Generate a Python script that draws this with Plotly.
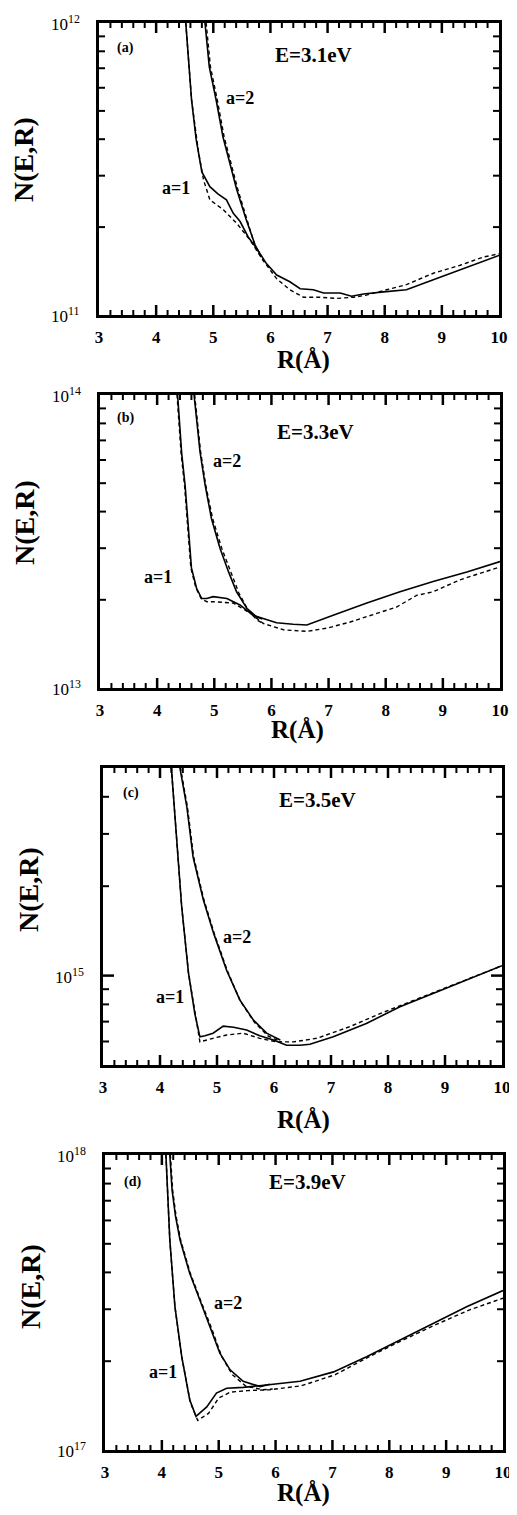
import math
import plotly.graph_objects as go

# ---------------- data ----------------
# Panel (a)  E = 3.1 eV
a_a1_sol_R = [4.50, 4.52, 4.62, 4.70, 4.80, 4.94, 5.08, 5.23, 5.35, 5.47, 5.61, 5.76, 5.93, 6.11, 6.34, 6.52, 6.75, 6.93, 7.22, 7.42, 7.63, 7.98, 8.38, 8.85, 9.43, 10.0]
a_a1_sol_N = [1.12e12, 1.0e12, 5.45e11, 4.0e11, 3.09e11, 2.75e11, 2.60e11, 2.48e11, 2.23e11, 2.09e11, 1.85e11, 1.69e11, 1.50e11, 1.37e11, 1.30e11, 1.23e11, 1.22e11, 1.19e11, 1.19e11, 1.16e11, 1.18e11, 1.20e11, 1.22e11, 1.32e11, 1.45e11, 1.60e11]
a_a1_das_R = [4.50, 4.52, 4.62, 4.74, 4.83, 4.94, 5.18, 5.41, 5.64, 5.87, 6.11, 6.34, 6.58, 6.87, 7.16, 7.45, 7.68, 8.03, 8.38, 8.85, 9.32, 9.73, 10.0]
a_a1_das_N = [1.12e12, 1.0e12, 5.45e11, 3.63e11, 2.90e11, 2.48e11, 2.29e11, 2.06e11, 1.81e11, 1.54e11, 1.33e11, 1.22e11, 1.15e11, 1.15e11, 1.14e11, 1.15e11, 1.17e11, 1.22e11, 1.27e11, 1.39e11, 1.48e11, 1.58e11, 1.62e11]
a_a2_sol_R = [4.84, 4.855, 4.93, 5.05, 5.17, 5.29, 5.41, 5.57, 5.73, 5.80]
a_a2_sol_N = [1.12e12, 1.0e12, 7.08e11, 5.45e11, 4.07e11, 3.27e11, 2.69e11, 2.14e11, 1.74e11, 1.64e11]
a_a2_das_R = [4.86, 4.875, 4.95, 5.07, 5.19, 5.31, 5.43, 5.59, 5.74, 5.87]
a_a2_das_N = [1.12e12, 1.0e12, 7.08e11, 5.45e11, 4.07e11, 3.27e11, 2.69e11, 2.12e11, 1.70e11, 1.54e11]

# Panel (b)  E = 3.3 eV
b_a1_sol_R = [4.34, 4.36, 4.43, 4.49, 4.55, 4.60, 4.69, 4.78, 4.87, 4.98, 5.22, 5.45, 5.68, 5.86, 6.09, 6.38, 6.62, 7.08, 7.67, 8.25, 8.83, 9.42, 10.0]
b_a1_sol_N = [1.12e14, 1.0e14, 6.31e13, 4.90e13, 3.31e13, 2.57e13, 2.19e13, 2.02e13, 2.02e13, 2.05e13, 2.02e13, 1.92e13, 1.77e13, 1.73e13, 1.67e13, 1.65e13, 1.64e13, 1.77e13, 1.95e13, 2.13e13, 2.31e13, 2.49e13, 2.70e13]
b_a1_das_R = [4.33, 4.35, 4.42, 4.48, 4.54, 4.59, 4.68, 4.77, 4.87, 4.98, 5.33, 5.63, 5.86, 6.21, 6.62, 6.97, 7.38, 7.84, 8.19, 8.54, 8.83, 9.30, 10.0]
b_a1_das_N = [1.12e14, 1.0e14, 6.31e13, 4.90e13, 3.31e13, 2.57e13, 2.19e13, 2.02e13, 1.97e13, 1.97e13, 1.95e13, 1.80e13, 1.66e13, 1.58e13, 1.56e13, 1.60e13, 1.68e13, 1.80e13, 1.89e13, 2.07e13, 2.13e13, 2.34e13, 2.59e13]
b_a2_sol_R = [4.62, 4.645, 4.75, 4.84, 4.95, 5.10, 5.25, 5.39, 5.57, 5.74, 5.84]
b_a2_sol_N = [1.12e14, 1.0e14, 6.41e13, 4.93e13, 3.79e13, 3.00e13, 2.49e13, 2.13e13, 1.87e13, 1.75e13, 1.72e13]
b_a2_das_R = [4.63, 4.655, 4.76, 4.85, 4.97, 5.13, 5.29, 5.43, 5.60, 5.76, 5.86]
b_a2_das_N = [1.12e14, 1.0e14, 6.41e13, 4.93e13, 3.79e13, 3.00e13, 2.49e13, 2.11e13, 1.83e13, 1.70e13, 1.66e13]

# Panel (c)  E = 3.5 eV
c_a1_sol_R = [4.18, 4.20, 4.29, 4.38, 4.50, 4.61, 4.70, 4.79, 4.93, 5.11, 5.29, 5.52, 5.75, 5.99, 6.22, 6.46, 6.63, 7.04, 7.62, 8.21, 8.79, 9.38, 10.0]
c_a1_sol_N = [5.62e15, 5.0e15, 2.86e15, 1.71e15, 1.02e15, 7.46e14, 6.22e14, 6.27e14, 6.40e14, 6.76e14, 6.70e14, 6.56e14, 6.27e14, 6.07e14, 5.83e14, 5.83e14, 5.87e14, 6.22e14, 6.90e14, 7.85e14, 8.71e14, 9.66e14, 1.08e15]
c_a1_das_R = [4.18, 4.20, 4.29, 4.38, 4.50, 4.61, 4.70, 4.93, 5.17, 5.46, 5.75, 6.05, 6.34, 6.75, 7.33, 7.90, 8.50, 9.10, 9.70, 10.0]
c_a1_das_N = [5.62e15, 5.0e15, 2.86e15, 1.71e15, 1.02e15, 7.46e14, 5.98e14, 6.15e14, 6.31e14, 6.40e14, 6.15e14, 5.98e14, 5.98e14, 6.15e14, 6.73e14, 7.50e14, 8.32e14, 9.23e14, 1.02e15, 1.08e15]
c_a2_sol_R = [4.33, 4.35, 4.47, 4.58, 4.76, 4.94, 5.17, 5.40, 5.64, 5.87, 6.11]
c_a2_sol_N = [5.62e15, 5.0e15, 3.71e15, 2.51e15, 1.80e15, 1.39e15, 1.04e15, 8.28e14, 7.08e14, 6.40e14, 6.07e14]
c_a2_das_R = [4.34, 4.36, 4.48, 4.59, 4.77, 4.95, 5.18, 5.41, 5.66, 5.90, 6.13]
c_a2_das_N = [5.62e15, 5.0e15, 3.71e15, 2.51e15, 1.80e15, 1.39e15, 1.04e15, 8.20e14, 6.95e14, 6.25e14, 5.98e14]

# Panel (d)  E = 3.9 eV
d_a1_sol_R = [4.06, 4.07, 4.14, 4.23, 4.35, 4.49, 4.60, 4.79, 4.96, 5.14, 5.43, 5.84, 6.43, 7.02, 7.60, 8.19, 8.77, 9.36, 10.0]
d_a1_sol_N = [1.12e18, 1.0e18, 5.15e17, 3.06e17, 2.07e17, 1.48e17, 1.30e17, 1.40e17, 1.56e17, 1.62e17, 1.63e17, 1.66e17, 1.71e17, 1.84e17, 2.07e17, 2.36e17, 2.69e17, 3.06e17, 3.47e17]
d_a1_das_R = [4.06, 4.07, 4.14, 4.23, 4.35, 4.50, 4.63, 4.82, 5.00, 5.20, 5.50, 5.90, 6.45, 7.05, 7.60, 8.20, 8.80, 9.40, 10.0]
d_a1_das_N = [1.12e18, 1.0e18, 5.15e17, 3.06e17, 2.07e17, 1.45e17, 1.26e17, 1.33e17, 1.50e17, 1.57e17, 1.59e17, 1.60e17, 1.65e17, 1.80e17, 2.05e17, 2.34e17, 2.65e17, 2.98e17, 3.27e17]
d_a2_sol_R = [4.13, 4.14, 4.18, 4.24, 4.32, 4.49, 4.67, 4.85, 5.02, 5.20, 5.43, 5.73, 5.90]
d_a2_sol_N = [1.12e18, 1.0e18, 7.6e17, 6.2e17, 5.15e17, 3.97e17, 3.22e17, 2.62e17, 2.13e17, 1.87e17, 1.71e17, 1.64e17, 1.67e17]
d_a2_das_R = [4.14, 4.15, 4.19, 4.25, 4.33, 4.50, 4.68, 4.87, 5.05, 5.24, 5.47, 5.77, 5.95]
d_a2_das_N = [1.12e18, 1.0e18, 7.6e17, 6.2e17, 5.15e17, 3.97e17, 3.22e17, 2.60e17, 2.08e17, 1.80e17, 1.65e17, 1.60e17, 1.61e17]

# tick values
x_major = [4, 5, 6, 7, 8, 9]
x_minor = [round(3 + 0.2 * i, 2) for i in range(1, 35) if i % 5 != 0]
a_ylabels = [(1e11, "10<sup>11</sup>"), (1e12, "10<sup>12</sup>")]
b_ylabels = [(1e13, "10<sup>13</sup>"), (1e14, "10<sup>14</sup>")]
c_ylabels = [(1e15, "10<sup>15</sup>")]
d_ylabels = [(1e17, "10<sup>17</sup>"), (1e18, "10<sup>18</sup>")]
a_yminor = [k * 1e11 for k in range(2, 10)]
b_yminor = [k * 1e13 for k in range(2, 10)]
c_yminor = [6e14, 7e14, 8e14, 9e14, 2e15, 3e15, 4e15]
d_yminor = [k * 1e17 for k in range(2, 10)]

panels = [
    dict(letter="(a)", energy="E=3.1eV", yrange=[11, 12], ylabels=a_ylabels, yminor=a_yminor,
         curves=[(a_a1_sol_R, a_a1_sol_N, "solid"), (a_a1_das_R, a_a1_das_N, "dash"),
                 (a_a2_sol_R, a_a2_sol_N, "solid"), (a_a2_das_R, a_a2_das_N, "dash")],
         box=(99, 499, 23, 315),
         txt=dict(letter=(125, 48), energy=(313, 55), a2=(240, 98), a1=(176, 188),
                  ytitle=(24, 160), xtitle=(303, 360))),
    dict(letter="(b)", energy="E=3.3eV", yrange=[13, 14], ylabels=b_ylabels, yminor=b_yminor,
         curves=[(b_a1_sol_R, b_a1_sol_N, "solid"), (b_a1_das_R, b_a1_das_N, "dash"),
                 (b_a2_sol_R, b_a2_sol_N, "solid"), (b_a2_das_R, b_a2_das_N, "dash")],
         box=(100, 500, 395, 688),
         txt=dict(letter=(125, 418), energy=(315, 432), a2=(227, 461), a1=(158, 577),
                  ytitle=(25, 523), xtitle=(297, 730))),
    dict(letter="(c)", energy="E=3.5eV", yrange=[14.699, 15.699], ylabels=c_ylabels, yminor=c_yminor,
         curves=[(c_a1_sol_R, c_a1_sol_N, "solid"), (c_a1_das_R, c_a1_das_N, "dash"),
                 (c_a2_sol_R, c_a2_sol_N, "solid"), (c_a2_das_R, c_a2_das_N, "dash")],
         box=(103, 502, 768, 1065),
         txt=dict(letter=(131, 793), energy=(317, 800), a2=(237, 937), a1=(170, 997),
                  ytitle=(28, 890), xtitle=(303, 1120))),
    dict(letter="(d)", energy="E=3.9eV", yrange=[17, 18], ylabels=d_ylabels, yminor=d_yminor,
         curves=[(d_a1_sol_R, d_a1_sol_N, "solid"), (d_a1_das_R, d_a1_das_N, "dash"),
                 (d_a2_sol_R, d_a2_sol_N, "solid"), (d_a2_das_R, d_a2_das_N, "dash")],
         box=(105, 503, 1155, 1450),
         txt=dict(letter=(132, 1182), energy=(307, 1182), a2=(228, 1303), a1=(163, 1372),
                  ytitle=(30, 1287), xtitle=(303, 1493))),
]

# the page has an 8px body margin, so the figure is drawn 8px in from the top-left
OFF = 8
W, H = 509, 1499
FONT = "Liberation Serif, Times New Roman, serif"


def px(x, y):
    return (x - OFF) / W, 1 - (y - OFF) / H


fig = go.Figure()
annotations = []
shapes = []


def ann(text, pos, size, angle=0, bold=True, xanchor="center"):
    xx, yy = px(*pos)
    font = dict(family=FONT, size=size, color="black")
    if bold:
        font["weight"] = "bold"
    annotations.append(dict(text=text, x=xx, y=yy, xref="paper", yref="paper",
                            xanchor=xanchor, yanchor="middle", showarrow=False,
                            textangle=angle, font=font))


def xtick(xa, ya, v, length, width):
    # inward tick on bottom and top edge, length in pixels
    for anchor, sign in ((0, 1), (1, -1)):
        shapes.append(dict(type="line", xref=xa, x0=v, x1=v,
                           yref=f"{ya} domain", ysizemode="pixel", yanchor=anchor,
                           y0=0, y1=sign * length,
                           line=dict(color="black", width=width), layer="above"))


def ytick(xa, ya, frac, length, width):
    # inward tick on left and right edge, length in pixels
    for anchor, sign in ((0, 1), (1, -1)):
        shapes.append(dict(type="line", yref=f"{ya} domain", y0=frac, y1=frac,
                           xref=f"{xa} domain", xsizemode="pixel", xanchor=anchor,
                           x0=0, x1=sign * length,
                           line=dict(color="black", width=width), layer="above"))


for i, p in enumerate(panels):
    n = i + 1
    xa = "x" if n == 1 else f"x{n}"
    ya = "y" if n == 1 else f"y{n}"
    for R, N, dash in p["curves"]:
        fig.add_trace(go.Scatter(
            x=R, y=N, mode="lines", xaxis=xa, yaxis=ya, showlegend=False,
            line=dict(color="black", width=1.6 if dash == "solid" else 1.4,
                      dash="solid" if dash == "solid" else "4px,3px"),
            hoverinfo="skip"))
    x0, x1, y0, y1 = p["box"]
    xd = [(x0 - OFF) / W, (x1 - OFF) / W]
    yd = [1 - (y1 - OFF) / H, 1 - (y0 - OFF) / H]
    xkey = "xaxis" if n == 1 else f"xaxis{n}"
    ykey = "yaxis" if n == 1 else f"yaxis{n}"
    xdict = dict(domain=xd, anchor=ya, range=[3, 10], dtick=1, ticks="",
                 mirror=True, showline=True, automargin=False,
                 linewidth=3, linecolor="black", showgrid=False, zeroline=False,
                 ticklabelstandoff=5,
                 tickfont=dict(family=FONT, size=17, color="black", weight="bold"))
    ydict = dict(domain=yd, anchor=xa, type="log", range=p["yrange"],
                 showticklabels=False, ticks="",
                 mirror=True, showline=True, linewidth=3, linecolor="black",
                 showgrid=False, zeroline=False, automargin=False)
    fig.update_layout(**{xkey: xdict, ykey: ydict})

    # tick marks drawn inside the frame on all four sides
    for v in x_major:
        xtick(xa, ya, v, 10, 2.5)
    for v in x_minor:
        xtick(xa, ya, v, 5, 2)
    lo, hi = p["yrange"]
    for v in p["yminor"]:
        ytick(xa, ya, (math.log10(v) - lo) / (hi - lo), 6, 2)
    for val, lab in p["ylabels"]:
        frac = (math.log10(val) - lo) / (hi - lo)
        if 0.01 < frac < 0.99:
            ytick(xa, ya, frac, 11, 2.5)
        # decade label, placed at the value's height in the panel
        ypos = y0 + (hi - math.log10(val)) / (hi - lo) * (y1 - y0)
        ann(lab, (x0 - 17, ypos), 17, bold=False, xanchor="right")

    t = p["txt"]
    ann(p["letter"], t["letter"], 14)
    ann(p["energy"], t["energy"], 21)
    ann("a=2", t["a2"], 18)
    ann("a=1", t["a1"], 18)
    ann("N(E,R)", t["ytitle"], 28, angle=-90)
    ann("R(Å)", t["xtitle"], 25)

fig.update_layout(width=W, height=H, autosize=False,
                  margin=dict(l=0, r=0, t=0, b=0),
                  paper_bgcolor="white", plot_bgcolor="white",
                  annotations=annotations, shapes=shapes, showlegend=False)

fig.write_html("out.html")
